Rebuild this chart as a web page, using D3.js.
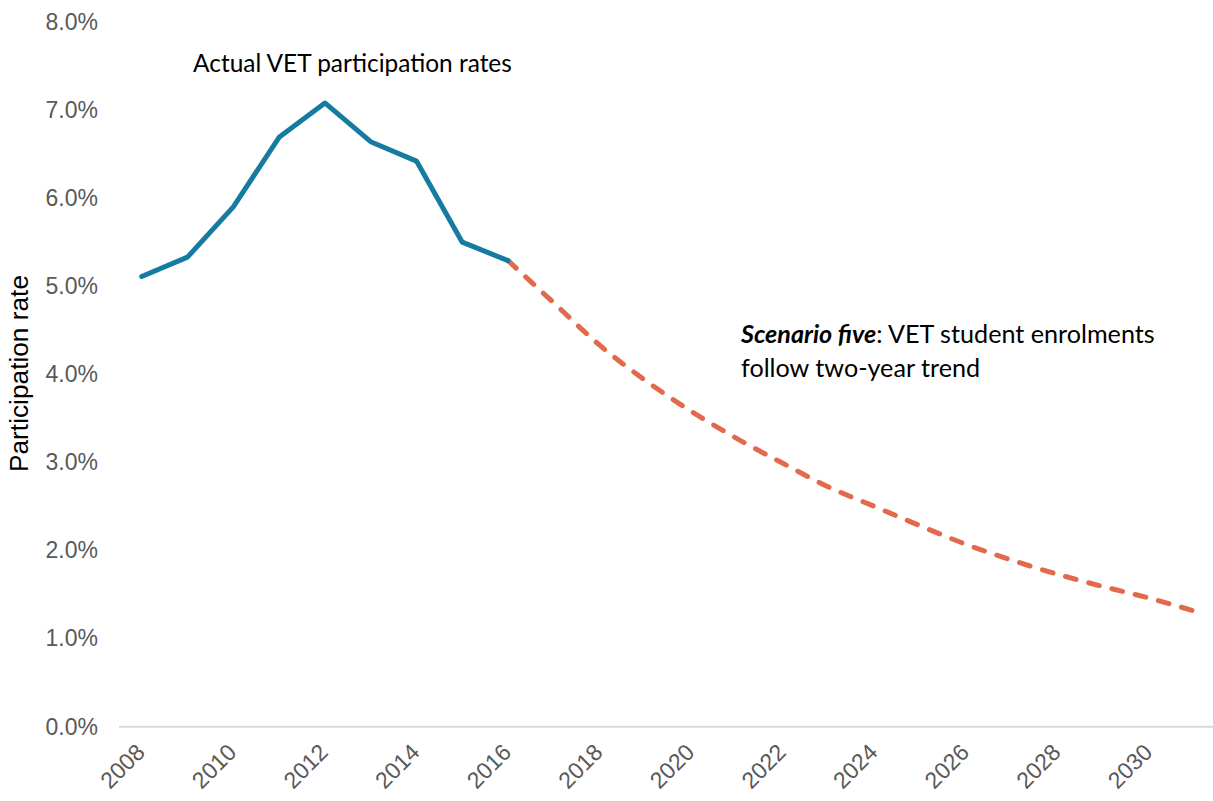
<!DOCTYPE html>
<html>
<head>
<meta charset="utf-8">
<script src="https://cdn.jsdelivr.net/npm/d3@7"></script>
<style>
  body { margin: 0; background: #fff; }
</style>
</head>
<body>
<div id="chart"></div>
<script>
// data
const actualYears = [2008, 2009, 2010, 2011, 2012, 2013, 2014, 2015, 2016];
const actualRates = [5.11, 5.33, 5.90, 6.69, 7.08, 6.64, 6.42, 5.50, 5.29];

const scenarioYears = [2016, 2017, 2018, 2019, 2020, 2021, 2022, 2023, 2024, 2025, 2026, 2027, 2028, 2029, 2030, 2031];
const scenarioRates = [5.29, 4.81, 4.33, 3.93, 3.58, 3.27, 2.99, 2.72, 2.50, 2.28, 2.07, 1.89, 1.73, 1.59, 1.46, 1.31];

const allYears = d3.range(2008, 2032);
const tickYears = [2008, 2010, 2012, 2014, 2016, 2018, 2020, 2022, 2024, 2026, 2028, 2030];
const yTicks = [0, 1, 2, 3, 4, 5, 6, 7, 8];

const width = 1213;
const height = 801;
const axisFont = '"Liberation Sans", Arial, sans-serif';
const noteFont = 'Lato, "Open Sans", sans-serif';

const xScale = d3.scalePoint()
  .domain(allYears)
  .range([141.7, 1195]);

const yScale = d3.scaleLinear()
  .domain([0, 8])
  .range([726.7, 21.9]);

const svg = d3.select('#chart')
  .append('svg')
  .attr('width', width)
  .attr('height', height);

// fit a text element to a measured width by adjusting its font size
function fitWidth(sel, target) {
  const w = sel.node().getComputedTextLength();
  const fs = parseFloat(sel.attr('font-size'));
  sel.attr('font-size', fs * target / w);
}

// y axis labels
const yAxis = d3.axisLeft(yScale)
  .tickValues(yTicks)
  .tickFormat(d => d.toFixed(1) + '%')
  .tickSize(0)
  .tickPadding(0);

svg.append('g')
  .attr('transform', 'translate(98, 0)')
  .call(yAxis)
  .call(g => g.select('.domain').remove())
  .selectAll('text')
  .attr('font-size', 23)
  .attr('fill', '#595959')
  .attr('font-family', axisFont);

// x axis
const xAxis = d3.axisBottom(xScale)
  .tickValues(tickYears)
  .tickSize(0)
  .tickPadding(0);

const xg = svg.append('g')
  .attr('transform', 'translate(0, ' + yScale(0) + ')')
  .call(xAxis);

xg.select('.domain').remove();
xg.append('line')
  .attr('x1', 119)
  .attr('x2', 1220)
  .attr('stroke', '#d9d9d9')
  .attr('stroke-width', 2);

xg.selectAll('.tick text')
  .attr('font-size', 23)
  .attr('fill', '#595959')
  .attr('font-family', axisFont)
  .attr('text-anchor', 'end')
  .attr('dy', 0)
  .attr('y', 0)
  .attr('transform', 'translate(4, 27) rotate(-45)');

// y axis title
const yTitle = svg.append('text')
  .attr('transform', 'translate(28, 373.5) rotate(-90)')
  .attr('text-anchor', 'middle')
  .attr('font-size', 22)
  .attr('font-family', axisFont)
  .attr('fill', '#000')
  .text('Participation rate');
fitWidth(yTitle, 197);

// lines
const line = d3.line()
  .x(d => xScale(d[0]))
  .y(d => yScale(d[1]));

svg.append('path')
  .datum(scenarioYears.map((y, i) => [y, scenarioRates[i]]))
  .attr('d', line.curve(d3.curveMonotoneX))
  .attr('fill', 'none')
  .attr('stroke', '#e2694b')
  .attr('stroke-width', 5)
  .attr('stroke-linecap', 'round')
  .attr('stroke-dasharray', '11,13');

svg.append('path')
  .datum(actualYears.map((y, i) => [y, actualRates[i]]))
  .attr('d', line.curve(d3.curveLinear))
  .attr('fill', 'none')
  .attr('stroke', '#167ba0')
  .attr('stroke-width', 5)
  .attr('stroke-linecap', 'round')
  .attr('stroke-linejoin', 'round');

// annotations
const actualLabel = svg.append('text')
  .attr('x', 193)
  .attr('y', 72)
  .attr('font-size', 21)
  .attr('font-family', noteFont)
  .attr('fill', '#000')
  .text('Actual VET participation rates');
fitWidth(actualLabel, 319);

const scen1 = svg.append('text')
  .attr('x', 741)
  .attr('y', 343)
  .attr('font-size', 21)
  .attr('font-family', noteFont)
  .attr('fill', '#000');
scen1.append('tspan')
  .attr('font-weight', 'bold')
  .attr('font-style', 'italic')
  .text('Scenario five');
scen1.append('tspan')
  .text(': VET student enrolments');
fitWidth(scen1, 414);
const scenSize = scen1.attr('font-size');

svg.append('text')
  .attr('x', 741)
  .attr('y', 377)
  .attr('font-size', scenSize)
  .attr('font-family', noteFont)
  .attr('fill', '#000')
  .text('follow two-year trend');
</script>
</body>
</html>
